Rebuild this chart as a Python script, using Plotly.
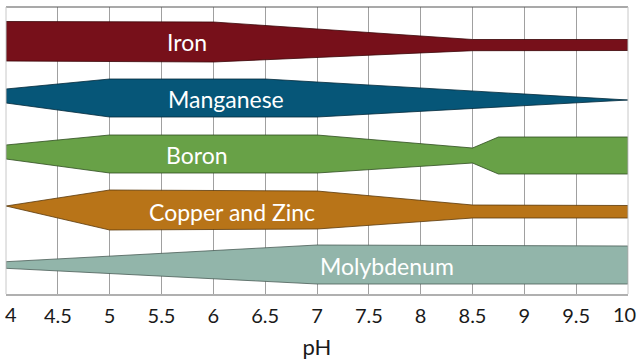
import plotly.graph_objects as go

# ---------------- data ----------------
# relative availability band boundaries, vertical axis runs 0 (bottom) .. 287 (top)
nutrients = ["Iron", "Manganese", "Boron", "Copper and Zinc", "Molybdenum"]

iron_ph = [4, 6, 8.5, 10]
iron_upper = [272.5, 272, 254.5, 254.5]
iron_lower = [233, 232, 243.3, 243.5]

mn_ph_upper = [4, 5, 6.5, 10]
mn_upper = [205, 215, 215, 194]
mn_ph_lower = [4, 5, 7, 10]
mn_lower = [191, 177, 177, 194]

boron_ph = [4, 5, 7, 8.5, 8.75, 10]
boron_upper = [149, 159, 159, 146, 157, 157]
boron_lower = [135, 121, 121, 131, 120, 120]

cuzn_ph = [4, 5, 7, 8.5, 10]
cuzn_upper = [88, 104, 103, 89, 88.5]
cuzn_lower = [88, 64, 65, 76, 76]

mo_ph = [4, 7, 10]
mo_upper = [32.3, 49, 48]
mo_lower = [25.7, 10, 10]

# label anchor (pH, level) per nutrient
label_ph = [5.75, 6.12, 5.84, 6.18, 7.68]
label_level = [252, 195, 139, 82, 28]

tick_vals = [4, 4.5, 5, 5.5, 6, 6.5, 7, 7.5, 8, 8.5, 9, 9.5, 10]
tick_text = ["4", "4.5", "5", "5.5", "6", "6.5", "7", "7.5", "8", "8.5", "9", "9.5", "10"]

colors = ["#77101a", "#065678", "#68a147", "#b87418", "#92b5aa"]
edge_colors = ["#3a0508", "#02283a", "#2f4d20", "#5a380a", "#4a5d57"]

bands = [
    (iron_ph, iron_upper, iron_ph, iron_lower),
    (mn_ph_upper, mn_upper, mn_ph_lower, mn_lower),
    (boron_ph, boron_upper, boron_ph, boron_lower),
    (cuzn_ph, cuzn_upper, cuzn_ph, cuzn_lower),
    (mo_ph, mo_upper, mo_ph, mo_lower),
]

fig = go.Figure()
for name, (pu, yu, pl, yl), c, ec in zip(nutrients, bands, colors, edge_colors):
    xs = list(pu) + list(reversed(pl)) + [pu[0]]
    ys = list(yu) + list(reversed(yl)) + [yu[0]]
    fig.add_trace(go.Scatter(
        x=xs, y=ys, mode="lines", fill="toself", fillcolor=c,
        line=dict(color=ec, width=0.8), name=name, hoverinfo="name",
    ))

for name, lx, ly in zip(nutrients, label_ph, label_level):
    fig.add_annotation(x=lx, y=ly, text=name, showarrow=False,
                       font=dict(family="Lato", size=23, color="white"),
                       xanchor="center", yanchor="middle")

# inner tick labels from the axis; the two edge labels are nudged inward as in the original
axis_text = ["" if i in (0, len(tick_text) - 1) else t for i, t in enumerate(tick_text)]
for idx, shift in ((0, 4.5), (len(tick_text) - 1, -4)):
    fig.add_annotation(x=tick_vals[idx], y=0, xref="x", yref="paper", text=tick_text[idx],
                       showarrow=False, xanchor="center", yanchor="middle",
                       xshift=shift, yshift=-20,
                       font=dict(family="Lato", size=20, color="#1a1a1a"))

fig.update_layout(
    width=638, height=362,
    margin=dict(l=6, r=10, t=7, b=68, autoexpand=False),
    paper_bgcolor="white", plot_bgcolor="white",
    showlegend=False,
    font=dict(family="Lato", color="#1a1a1a"),
)
fig.update_xaxes(
    range=[4, 10], tickvals=tick_vals, ticktext=axis_text,
    automargin=False,
    showgrid=True, gridcolor="#a0a0a0", gridwidth=1,
    ticks="outside", ticklen=3, tickcolor="rgba(0,0,0,0)",
    tickfont=dict(family="Lato", size=20, color="#1a1a1a"),
    showline=True, linecolor="#b0b0b0", linewidth=1.5, mirror=False,
    zeroline=False,
    title=dict(text="pH", font=dict(family="Lato", size=22, color="#1a1a1a"), standoff=14),
)
fig.update_yaxes(
    range=[0, 287], showgrid=False, showticklabels=False, zeroline=False,
    showline=False, automargin=False,
)
# plot frame: dark top edge, light side edges
fig.add_shape(type="line", xref="paper", yref="paper", x0=0, x1=1, y0=1, y1=1,
              line=dict(color="#555555", width=1.2))
fig.add_shape(type="line", xref="paper", yref="paper", x0=0, x1=0, y0=0, y1=1,
              line=dict(color="#c8c8c8", width=1))
fig.add_shape(type="line", xref="paper", yref="paper", x0=1, x1=1, y0=0, y1=1,
              line=dict(color="#c8c8c8", width=1))

fig.write_html("out.html", config={"displayModeBar": False},
               post_script="document.body.style.margin='0';document.body.style.padding='0';")
